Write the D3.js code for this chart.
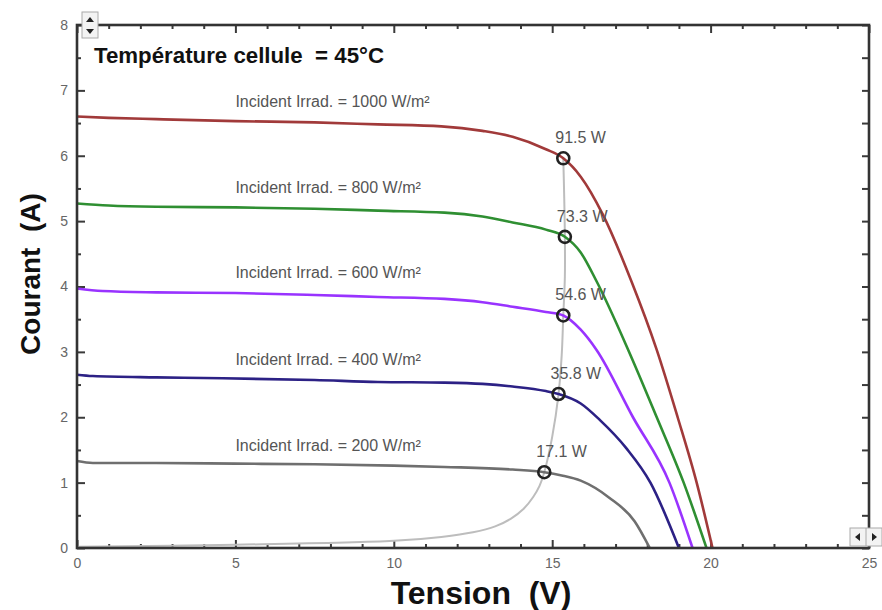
<!DOCTYPE html>
<html>
<head>
<meta charset="utf-8">
<script src="https://cdn.jsdelivr.net/npm/d3@7"></script>
<style>
  html, body { margin: 0; padding: 0; background: #fff; }
  svg { display: block; font-family: "Liberation Sans", Arial, sans-serif; }
</style>
</head>
<body>
<svg id="chart" width="882" height="610"></svg>
<script>
// I–V characteristics of a PV module at 45 °C for several irradiance levels
const irradiances = [1000, 800, 600, 400, 200];
const curveColors = ["#a13a3a", "#2f8f32", "#9933ff", "#2c2185", "#6f6f6f"];

// [voltage (V), current (A)] samples of each curve
const curve1000 = [[0,6.60],[1,6.58],[2.5,6.56],[5,6.53],[7.5,6.51],[9.5,6.48],[11.5,6.45],[12.8,6.38],[13.75,6.29],[14.8,6.10],[15.35,5.961],[15.9,5.68],[16.6,5.10],[17.5,4.08],[18.3,3.03],[18.96,2.0],[19.56,1.0],[20.06,0]];
const curve800  = [[0,5.27],[1,5.24],[2.5,5.22],[5,5.21],[7.5,5.19],[9.5,5.16],[11.6,5.13],[12.8,5.07],[13.75,4.98],[14.8,4.87],[15.4,4.760],[15.9,4.52],[16.4,4.08],[17.4,3.03],[18.3,2.0],[19.15,1.0],[19.87,0]];
const curve600  = [[0,3.97],[0.8,3.93],[2.5,3.91],[5,3.90],[7.5,3.87],[9.5,3.84],[11.6,3.81],[12.8,3.76],[13.75,3.69],[14.8,3.61],[15.35,3.557],[15.9,3.34],[16.4,3.03],[17.55,2.0],[18.7,1.0],[19.43,0]];
const curve400  = [[0,2.65],[0.5,2.63],[2.5,2.61],[4,2.60],[7.5,2.57],[9.5,2.54],[11.6,2.53],[12.8,2.51],[13.75,2.47],[14.8,2.40],[15.2,2.355],[15.9,2.21],[16.5,1.96],[17.35,1.52],[18.1,1.0],[19.0,0]];
const curve200  = [[0,1.33],[0.5,1.30],[2.5,1.30],[5,1.29],[7.5,1.28],[10,1.26],[11.6,1.24],[13.75,1.20],[14.75,1.159],[15.3,1.11],[15.9,1.03],[16.8,0.77],[17.6,0.41],[18.08,0]];
const curves = [curve1000, curve800, curve600, curve400, curve200];

// maximum power points: power (W) and voltage (V); current = P / V
const mppPower   = [91.5, 73.3, 54.6, 35.8, 17.1];
const mppVoltage = [15.35, 15.4, 15.35, 15.2, 14.75];

// locus of the maximum power point as irradiance varies
const mppLocus = [[0,0.02],[5,0.05],[10,0.11],[11.5,0.17],[12.5,0.24],[13.2,0.33],[13.7,0.45],[14.1,0.6],[14.4,0.78],[14.6,0.95],[14.75,1.159],[15.0,1.7],[15.2,2.355],[15.3,2.95],[15.35,3.557],[15.4,4.15],[15.4,4.76],[15.38,5.35],[15.35,5.961]];

const xTicks = [0, 5, 10, 15, 20, 25];
const yTicks = [0, 1, 2, 3, 4, 5, 6, 7, 8];

const svg = d3.select("#chart");
const plotLeft = 77, plotRight = 869, plotTop = 25, plotBottom = 548;

const x = d3.scaleLinear().domain([0, 25]).range([plotLeft, plotRight]);
const y = d3.scaleLinear().domain([0, 8]).range([plotBottom, plotTop]);

const minorX = d3.range(0, 26, 1).filter(v => v % 5 !== 0);
const minorY = d3.range(0.5, 8, 1);

function styleAxis(g) {
  g.select(".domain").remove();
  g.selectAll(".tick line").attr("stroke", "#3a3a3a").attr("stroke-width", 2);
  g.selectAll(".tick text").attr("fill", "#666").attr("font-size", 14).attr("font-family", "'Liberation Sans', Arial, sans-serif");
}

// bottom axis with labels, inward ticks
svg.append("g").attr("transform", `translate(0,${plotBottom})`)
  .call(d3.axisBottom(x).tickValues(xTicks).tickSize(-8).tickPadding(10).tickFormat(d3.format("d")))
  .call(styleAxis);
svg.append("g").attr("transform", `translate(0,${plotBottom})`)
  .call(d3.axisBottom(x).tickValues(minorX).tickSize(-4).tickFormat(""))
  .call(styleAxis);
// top axis
svg.append("g").attr("transform", `translate(0,${plotTop})`)
  .call(d3.axisTop(x).tickValues(xTicks).tickSize(-8).tickFormat(""))
  .call(styleAxis);
svg.append("g").attr("transform", `translate(0,${plotTop})`)
  .call(d3.axisTop(x).tickValues(minorX).tickSize(-4).tickFormat(""))
  .call(styleAxis);
// left axis with labels
svg.append("g").attr("transform", `translate(${plotLeft},0)`)
  .call(d3.axisLeft(y).tickValues(yTicks).tickSize(-8).tickPadding(9).tickFormat(d3.format("d")))
  .call(styleAxis);
svg.append("g").attr("transform", `translate(${plotLeft},0)`)
  .call(d3.axisLeft(y).tickValues(minorY).tickSize(-4).tickFormat(""))
  .call(styleAxis);
// right axis
svg.append("g").attr("transform", `translate(${plotRight},0)`)
  .call(d3.axisRight(y).tickValues(yTicks).tickSize(-7).tickFormat(""))
  .call(styleAxis);
svg.append("g").attr("transform", `translate(${plotRight},0)`)
  .call(d3.axisRight(y).tickValues(minorY).tickSize(-7).tickFormat(""))
  .call(styleAxis);

// MPP locus
const locusLine = d3.line().x(d => x(d[0])).y(d => y(d[1])).curve(d3.curveCatmullRom.alpha(0.5));
svg.append("path").datum(mppLocus)
  .attr("d", locusLine).attr("fill", "none").attr("stroke", "#bdbdbd").attr("stroke-width", 2);

// I–V curves
const ivLine = d3.line().x(d => x(d[0])).y(d => y(d[1])).curve(d3.curveMonotoneX);
svg.append("g").selectAll("path").data(curves).join("path")
  .attr("d", ivLine)
  .attr("fill", "none")
  .attr("stroke", (d, i) => curveColors[i])
  .attr("stroke-width", 2.6)
  .attr("stroke-linejoin", "round");

// irradiance labels
svg.append("g").selectAll("text").data(irradiances).join("text")
  .attr("x", x(5))
  .attr("y", (d, i) => y(curves[i][0][1]) - 10)
  .attr("font-size", 16)
  .attr("fill", "#555")
  .text(d => `Incident Irrad. = ${d} W/m²`);

// maximum power points
const mpp = mppPower.map((p, i) => ({ p, v: mppVoltage[i], a: p / mppVoltage[i] }));
svg.append("g").selectAll("text").data(mpp).join("text")
  .attr("x", d => x(d.v) - 8)
  .attr("y", d => y(d.a) - 15)
  .attr("font-size", 16)
  .attr("fill", "#555")
  .text(d => `${d.p.toFixed(1)} W`);
svg.append("g").selectAll("circle").data(mpp).join("circle")
  .attr("cx", d => x(d.v))
  .attr("cy", d => y(d.a))
  .attr("r", 6)
  .attr("fill", "none")
  .attr("stroke", "#222")
  .attr("stroke-width", 2.6);

// plot frame
svg.append("rect")
  .attr("x", plotLeft).attr("y", plotTop)
  .attr("width", plotRight - plotLeft).attr("height", plotBottom - plotTop)
  .attr("fill", "none").attr("stroke", "#333").attr("stroke-width", 2.6);

// small scroll buttons on the frame
const upDown = svg.append("g");
upDown.append("rect").attr("x", 82).attr("y", 12).attr("width", 16).attr("height", 26)
  .attr("fill", "#f3f3f3").attr("stroke", "#aaa").attr("stroke-width", 1);
upDown.append("path").attr("d", "M86,22 L90,17 L94,22 Z").attr("fill", "#222");
upDown.append("path").attr("d", "M86,29 L90,34 L94,29 Z").attr("fill", "#222");
const leftRight = svg.append("g");
leftRight.append("rect").attr("x", 850).attr("y", 528).attr("width", 32).attr("height", 18)
  .attr("fill", "#f3f3f3").attr("stroke", "#aaa").attr("stroke-width", 1);
leftRight.append("line").attr("x1", 866).attr("x2", 866).attr("y1", 528).attr("y2", 546).attr("stroke", "#aaa");
leftRight.append("path").attr("d", "M860,533 L855,537 L860,541 Z").attr("fill", "#222");
leftRight.append("path").attr("d", "M872,533 L877,537 L872,541 Z").attr("fill", "#222");

// title inside the plot
svg.append("text")
  .attr("x", 94).attr("y", 63)
  .attr("font-size", 22).attr("font-weight", "bold").attr("fill", "#111")
  .attr("xml:space", "preserve")
  .attr("textLength", 290).attr("lengthAdjust", "spacingAndGlyphs")
  .text("Température cellule  = 45°C");

// axis titles
svg.append("text")
  .attr("x", 481).attr("y", 604)
  .attr("text-anchor", "middle")
  .attr("font-size", 32).attr("font-weight", "bold").attr("fill", "#111")
  .attr("xml:space", "preserve")
  .text("Tension  (V)");
svg.append("text")
  .attr("transform", "translate(40,274) rotate(-90)")
  .attr("text-anchor", "middle")
  .attr("font-size", 28).attr("font-weight", "bold").attr("fill", "#111")
  .attr("xml:space", "preserve")
  .text("Courant  (A)");
</script>
</body>
</html>
